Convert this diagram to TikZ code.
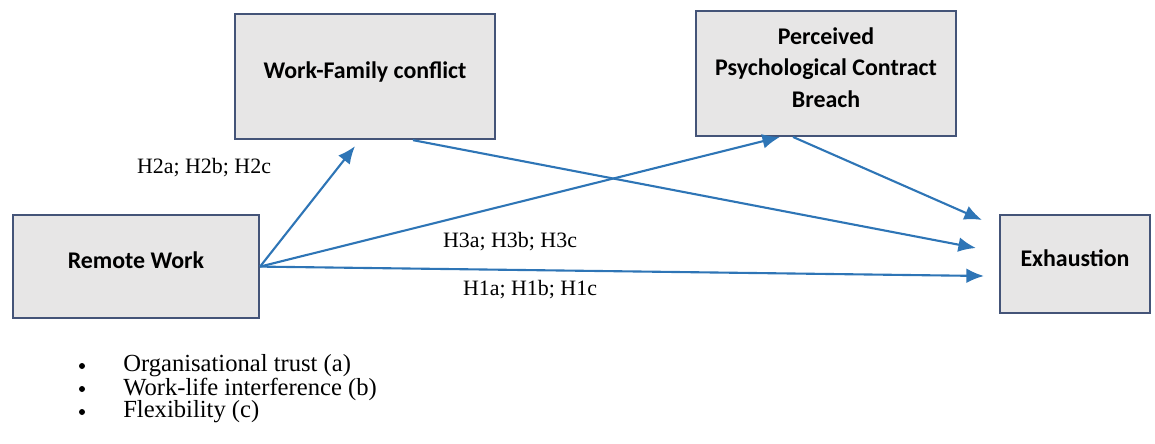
\documentclass[tikz,border=0pt]{standalone}
\usepackage{fontspec}
\setmainfont{Liberation Serif}
\newfontfamily\boxfont{Carlito}
\usetikzlibrary{arrows.meta}
\definecolor{boxfill}{RGB}{231,230,230}
\definecolor{boxline}{RGB}{68,84,120}
\definecolor{arrblue}{RGB}{46,117,182}
\begin{document}
\begin{tikzpicture}[>={Latex[length=12.5pt,width=10.5pt]},
  box/.style={draw=boxline,line width=1.5pt,fill=boxfill,align=center,inner sep=0pt,
    text depth=0.3cm,font=\boxfont\bfseries\fontsize{17}{22.4}\selectfont},
  arr/.style={->,draw=arrblue,line width=1.5pt},
  hyp/.style={font=\fontsize{15.6}{18}\selectfont},
  dot/.style={circle,fill=black,inner sep=0pt,minimum size=0.15cm},
  item/.style={font=\fontsize{17.5}{20}\selectfont,inner sep=0pt}]
\useasboundingbox (0,0) rectangle (28.875,11.075);
% variables
\node[box,minimum width=6.15cm,minimum height=2.575cm] (rw) at (3.4,4.41) {Remote Work};
\node[box,minimum width=6.5cm,minimum height=3.125cm] (wf) at (9.125,9.16) {Work-Family conflict};
\node[box,minimum width=6.5cm,minimum height=3.125cm] (ppcb) at (20.65,9.24) {Perceived\\Psychological Contract\\Breach};
\node[box,minimum width=3.75cm,minimum height=2.45cm] (exh) at (26.875,4.475) {Exhaustion};
% paths
\draw[arr](rw.east)--([shift={(-0.25,-0.15)}]wf.south);
\draw[arr](rw.east)--([shift={(-1.15,0)}]ppcb.south);
\draw[arr](rw.east)--([shift={(-0.375,-0.3)}]exh.west);
\draw[arr]([xshift=1.2cm]wf.south)--([shift={(-0.575,0.4)}]exh.west);
\draw[arr]([xshift=-0.825cm]ppcb.south)--([shift={(-0.425,1.1)}]exh.west);
% hypotheses
\node[hyp] (h2) at (5.1,6.875) {H2a; H2b; H2c};
\node[hyp] (h3) at (12.75,5.025) {H3a; H3b; H3c};
\node[hyp] (h1) at (13.25,3.825) {H1a; H1b; H1c};
% dimensions
\foreach \txt [count=\i] in {{Organisational trust (a)},{Work-life interference (b)},{Flexibility (c)}}{
  \node[dot] (b\i) at (2.05,{2.5-0.575*\i}) {};
  \node[item,anchor=west] (t\i) at (3.075,{2.5-0.575*\i}) {\txt};
}
\end{tikzpicture}
\end{document}
